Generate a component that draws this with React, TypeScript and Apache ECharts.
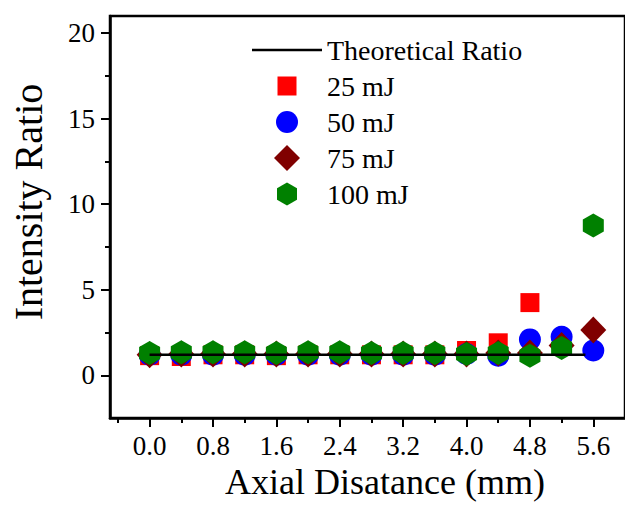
import React, { useEffect, useRef } from "react";
import * as echarts from "echarts";

const xValues = [0.0, 0.4, 0.8, 1.2, 1.6, 2.0, 2.4, 2.8, 3.2, 3.6, 4.0, 4.4, 4.8, 5.2, 5.6];
const theoX = [0.0, 5.5];
const theoY = [1.2, 1.2];
const mj25 = [1.15, 1.1, 1.2, 1.2, 1.15, 1.2, 1.2, 1.2, 1.2, 1.2, 1.45, 1.9, 4.25];
const mj50 = [1.2, 1.2, 1.2, 1.2, 1.2, 1.2, 1.2, 1.2, 1.2, 1.2, 1.25, 1.15, 2.1, 2.25, 1.45];
const mj75 = [1.2, 1.25, 1.25, 1.25, 1.25, 1.25, 1.25, 1.25, 1.25, 1.25, 1.25, 1.3, 1.3, 1.75, 2.65];
const mj100 = [1.3, 1.35, 1.35, 1.35, 1.3, 1.35, 1.35, 1.3, 1.3, 1.3, 1.25, 1.3, 1.15, 1.6, 8.75];
const xMajorTicks = [0.0, 0.8, 1.6, 2.4, 3.2, 4.0, 4.8, 5.6];
const xMinorTicks = [-0.4, 0.4, 1.2, 2.0, 2.8, 3.6, 4.4, 5.2];
const yMajorTicks = [0, 5, 10, 15, 20];
const yMinorTicks = [2.5, 7.5, 12.5, 17.5];
const seriesNames = ["Theoretical Ratio", "25 mJ", "50 mJ", "75 mJ", "100 mJ"];

const FONT = "'Liberation Serif', 'Times New Roman', serif";
const HEX = "path://M0,-1L0.866,-0.5L0.866,0.5L0,1L-0.866,0.5L-0.866,-0.5Z";

// legend icons, each drawn in a 70x26 or 26x26 box
const LEG_LINE = "path://M0,0M0,26M0,11.8L70,11.8L70,14.2L0,14.2Z";
const LEG_SQUARE = "path://M0,0M26,26M3.5,3.5L22.5,3.5L22.5,22.5L3.5,22.5Z";
const LEG_CIRCLE = "path://M0,0M26,26M2,13A11,11,0,1,1,24,13A11,11,0,1,1,2,13Z";
const LEG_DIAMOND = "path://M13,0L26,13L13,26L0,13Z";
const LEG_HEX = "path://M0,0M26,26M13,1.5L23,7.25L23,18.75L13,24.5L3,18.75L3,7.25Z";

const pts = (ys: number[]) => ys.map((y, i) => [xValues[i], y]);

export default function App() {
  const ref = useRef<HTMLDivElement>(null);
  useEffect(() => {
    if (!ref.current) return;
    const chart = echarts.init(ref.current, null, { renderer: "svg" });
    const axisLine = { show: true, onZero: false, lineStyle: { color: "#000", width: 2.5 } };
    const tickStyle = { color: "#000", width: 2 };
    chart.setOption({
      animation: false,
      backgroundColor: "#fff",
      grid: {
        left: 107,
        top: 16,
        width: 519,
        height: 409,
        show: true,
        borderColor: "#000",
        borderWidth: 2.5,
      },
      legend: {
        orient: "vertical",
        left: 247,
        top: 31,
        itemWidth: 70,
        itemHeight: 26,
        itemGap: 8,
        data: [
          { name: seriesNames[0], icon: LEG_LINE },
          { name: seriesNames[1], icon: LEG_SQUARE },
          { name: seriesNames[2], icon: LEG_CIRCLE },
          { name: seriesNames[3], icon: LEG_DIAMOND },
          { name: seriesNames[4], icon: LEG_HEX },
        ],
        textStyle: { fontFamily: FONT, fontSize: 28, color: "#000" },
      },
      xAxis: [
        {
          type: "value",
          min: -0.5,
          max: 6.0,
          position: "bottom",
          axisLine,
          splitLine: { show: false },
          axisTick: { show: true, customValues: xMajorTicks, length: 9, lineStyle: tickStyle },
          axisLabel: {
            customValues: xMajorTicks,
            formatter: (v: number) => v.toFixed(1),
            fontFamily: FONT,
            fontSize: 27,
            color: "#000",
            margin: 14,
          },
          name: "Axial Disatance (mm)",
          nameLocation: "middle",
          nameGap: 44,
          nameTextStyle: { fontFamily: FONT, fontSize: 36, color: "#000", padding: [0, 0, 0, 35] },
        },
        {
          type: "value",
          min: -0.5,
          max: 6.0,
          position: "bottom",
          axisLine: { show: false, onZero: false },
          splitLine: { show: false },
          axisTick: { show: true, customValues: xMinorTicks, length: 5, lineStyle: tickStyle },
          axisLabel: { show: false },
        },
      ],
      yAxis: [
        {
          type: "value",
          min: -2.5,
          max: 21,
          position: "left",
          axisLine,
          splitLine: { show: false },
          axisTick: { show: true, customValues: yMajorTicks, length: 9, lineStyle: tickStyle },
          axisLabel: {
            customValues: yMajorTicks,
            fontFamily: FONT,
            fontSize: 27,
            color: "#000",
            margin: 15,
          },
          name: "Intensity Ratio",
          nameLocation: "middle",
          nameGap: 62,
          nameTextStyle: { fontFamily: FONT, fontSize: 40, color: "#000", padding: [0, 0, 0, 30] },
        },
        {
          type: "value",
          min: -2.5,
          max: 21,
          position: "left",
          axisLine: { show: false, onZero: false },
          splitLine: { show: false },
          axisTick: { show: true, customValues: yMinorTicks, length: 5, lineStyle: tickStyle },
          axisLabel: { show: false },
        },
      ],
      series: [
        {
          name: seriesNames[0],
          type: "line",
          symbol: "none",
          data: theoX.map((x, i) => [x, theoY[i]]),
          lineStyle: { color: "#000", width: 2.5 },
          itemStyle: { color: "#000" },
        },
        {
          name: seriesNames[1],
          type: "scatter",
          symbol: "rect",
          symbolSize: 19,
          data: pts(mj25),
          itemStyle: { color: "#ff0000", opacity: 1 },
        },
        {
          name: seriesNames[2],
          type: "scatter",
          symbol: "circle",
          symbolSize: 22,
          data: pts(mj50),
          itemStyle: { color: "#0000ff", opacity: 1 },
        },
        {
          name: seriesNames[3],
          type: "scatter",
          symbol: "diamond",
          symbolSize: [26, 27],
          data: pts(mj75),
          itemStyle: { color: "#800000", opacity: 1 },
        },
        {
          name: seriesNames[4],
          type: "scatter",
          symbol: HEX,
          symbolSize: [21, 24],
          data: pts(mj100),
          itemStyle: { color: "#008000", opacity: 1 },
        },
      ],
    });
    return () => chart.dispose();
  }, []);
  return (
    <div
      ref={ref}
      style={{ position: "fixed", left: 0, top: 0, width: 625, height: 505, background: "#fff" }}
    />
  );
}
